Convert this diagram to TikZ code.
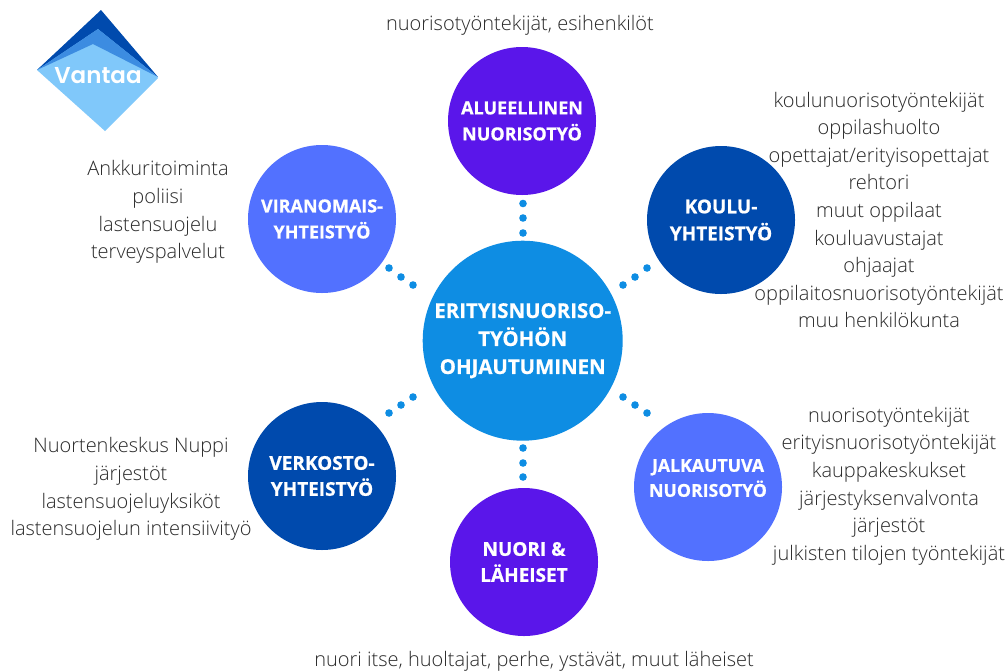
\documentclass[tikz,border=0pt]{standalone}
\usepackage{fontspec}
\setmainfont{Open Sans}[UprightFont=* Light,BoldFont=* Bold,BoldFeatures={FakeBold=0.7}]
\newfontfamily\vfont{Poppins}[UprightFont=* SemiBold]
\usetikzlibrary{calc}
\definecolor{midblue}{HTML}{0E8DE3}
\definecolor{navy}{HTML}{004AAD}
\definecolor{periw}{HTML}{5271FF}
\definecolor{purpA}{HTML}{5A16EA}
\definecolor{txt}{HTML}{2A2A2A}
\definecolor{logoA}{RGB}{128,200,250}
\definecolor{logoB}{RGB}{0,74,173}
\definecolor{logoC}{RGB}{60,140,225}
\newcommand{\fsz}[2]{\fontsize{#1}{#2}\selectfont\bfseries}
\tikzset{
  hub/.style={circle,draw=none,fill=midblue,minimum size=200pt,inner sep=0pt,text=white,font=\fsz{20.4}{28},align=center},
  sat/.style={circle,draw=none,minimum size=148pt,inner sep=0pt,text=white,align=center},
  lab/.style={text=txt,font=\fontsize{20}{27.6}\selectfont,align=center,inner sep=0pt},
  dotm/.style={circle,fill=midblue,draw=none,minimum size=7.6pt,inner sep=0pt}
}
\begin{document}
\begin{tikzpicture}[x=1pt,y=-1pt]
\useasboundingbox (0,0) rectangle (1008,670);
\fill[white] (0,0) rectangle (1008,670);
% logo
\fill[logoA] (37,70) -- (101,11) -- (158,78) -- (105,131) -- cycle;
\fill[logoB] (37,70) -- (101,10) -- (158,77) -- (98,29) -- cycle;
\fill[logoC] (37,70) -- (98,29) -- (158,77) -- (93,44) -- cycle;
\node (logo) at (98,76) [text=white,inner sep=0pt,font=\vfont\fontsize{23}{23}\selectfont] {Vantaa};
% circles
\node[hub] (c) at (522.7,340.7) {ERITYISNUORISO-\\TYÖHÖN\\OHJAUTUMINEN};
\node[sat,fill=purpA,font=\fsz{18}{26}] (a) at (522,121) {ALUEELLINEN\\NUORISOTYÖ};
\node[sat,fill=navy,font=\fsz{19}{27}] (k) at (721,220) {KOULU-\\YHTEISTYÖ};
\node[sat,fill=periw,font=\fsz{18}{26}] (v) at (322,219) {VIRANOMAIS-\\YHTEISTYÖ};
\node[sat,fill=navy,font=\fsz{19}{26}] (e) at (322,476) {VERKOSTO-\\YHTEISTYÖ};
\node[sat,fill=periw] (j) at (708,487) {};
\node[text=white,align=center,inner sep=0pt,font=\fsz{17.7}{25}] (jt) at (708,478) {JALKAUTUVA\\NUORISOTYÖ};
\node[sat,fill=purpA,font=\fsz{19}{26}] (n) at (524,562) {NUORI \&\\LÄHEISET};
% dots
\foreach \p in {(523,203.5),(523,218),(523,233),(523,448),(523,463),(523,477),
 (389,268),(401,277),(413,285),(413,397),(401,405),(389,413),
 (623,285),(635,277),(647,268),(623,397),(635,405),(647,413)}
  \node[dotm] at \p {};
% labels
\node[lab] (la) at (520,25) {nuorisotyöntekijät, esihenkilöt};
\node[lab] (lk) at (879,210) {koulunuorisotyöntekijät\\oppilashuolto\\opettajat/erityisopettajat\\rehtori\\muut oppilaat\\kouluavustajat\\ohjaajat\\oppilaitosnuorisotyöntekijät\\muu henkilökunta};
\node[lab] (lv) at (158,212) {Ankkuritoiminta\\poliisi\\lastensuojelu\\terveyspalvelut};
\node[lab] (le) at (131,489) {Nuortenkeskus Nuppi\\järjestöt\\lastensuojeluyksiköt\\lastensuojelun intensiivityö};
\node[lab] (lj) at (889,486) {nuorisotyöntekijät\\erityisnuorisotyöntekijät\\kauppakeskukset\\järjestyksenvalvonta\\järjestöt\\julkisten tilojen työntekijät};
\node[lab] (ln) at (534,661) {nuori itse, huoltajat, perhe, ystävät, muut läheiset};
\end{tikzpicture}
\end{document}
